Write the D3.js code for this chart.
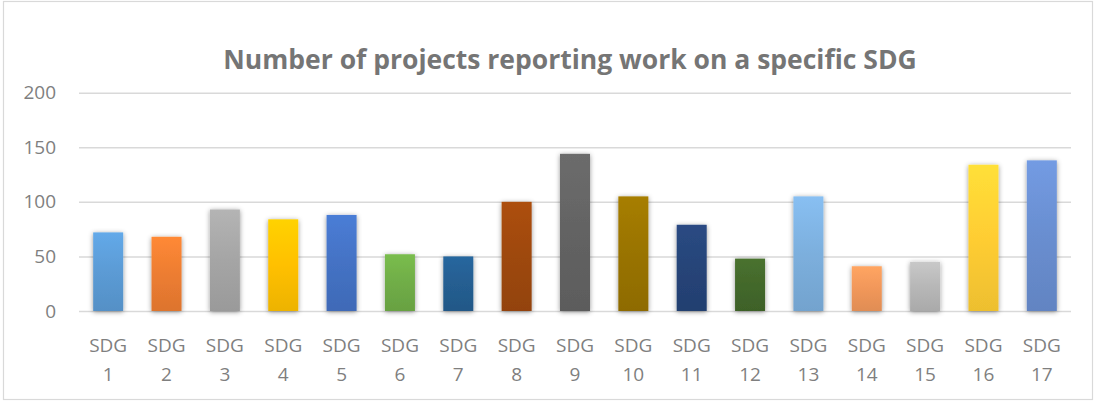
<!DOCTYPE html>
<html>
<head>
<meta charset="utf-8">
<script src="https://cdn.jsdelivr.net/npm/d3@7"></script>
<style>
  html, body { margin: 0; padding: 0; background: #fff; }
  svg { display: block; }
</style>
</head>
<body>
<svg id="chart"></svg>
<script>
/* ---------- data ---------- */

var categories = ["SDG 1", "SDG 2", "SDG 3", "SDG 4", "SDG 5", "SDG 6", "SDG 7", "SDG 8", "SDG 9",
                  "SDG 10", "SDG 11", "SDG 12", "SDG 13", "SDG 14", "SDG 15", "SDG 16", "SDG 17"];
var projects = [72, 68, 93, 84, 88, 52, 50, 100, 144, 105, 79, 48, 105, 41, 45, 134, 138];
var barColors = ["#5B9BD5", "#ED7D31", "#A5A5A5", "#FFC000", "#4472C4", "#70AD47", "#255E91", "#9E480E", "#636363",
                 "#997300", "#264478", "#43682B", "#7CAFDD", "#F1975A", "#B7B7B7", "#FFCD33", "#698ED0"];
var yTicks = [0, 50, 100, 150, 200];
var title = "Number of projects reporting work on a specific SDG";

/* ---------- size ---------- */

var WIDTH = 1100, HEIGHT = 403;
var plotLeft = 79, plotRight = 1071, plotTop = 92.7, plotBottom = 311;
var textColor = "#7f7f7f", gridColor = "#d9d9d9";

var svg = d3.select("#chart")
    .attr("width", WIDTH)
    .attr("height", HEIGHT);

var defs = svg.append("defs");

// soft shadow round the bars
var shadow = defs.append("filter")
    .attr("id", "shadow")
    .attr("x", "-50%").attr("y", "-20%")
    .attr("width", "200%").attr("height", "140%");
shadow.append("feGaussianBlur").attr("in", "SourceAlpha").attr("stdDeviation", 2.6).attr("result", "blur");
shadow.append("feOffset").attr("in", "blur").attr("dx", 0).attr("dy", 1).attr("result", "off");
shadow.append("feFlood").attr("flood-color", "#000").attr("flood-opacity", 0.42);
shadow.append("feComposite").attr("in2", "off").attr("operator", "in").attr("result", "sh");
var merge = shadow.append("feMerge");
merge.append("feMergeNode").attr("in", "sh");
merge.append("feMergeNode").attr("in", "SourceGraphic");

barColors.forEach(function(c, i) {
    var g = defs.append("linearGradient")
        .attr("id", "grad" + i)
        .attr("x1", 0).attr("y1", 0).attr("x2", 0).attr("y2", 1);
    g.append("stop").attr("offset", "0%").attr("stop-color", d3.color(c).brighter(0.25));
    g.append("stop").attr("offset", "50%").attr("stop-color", c);
    g.append("stop").attr("offset", "100%").attr("stop-color", d3.color(c).darker(0.2));
});

/* ---------- frame ---------- */

svg.append("rect")
    .attr("x", 3.5).attr("y", 1.5)
    .attr("width", 1089).attr("height", 398)
    .attr("fill", "#fff")
    .attr("stroke", "#d9d9d9")
    .attr("stroke-width", 1.2);

/* ---------- scales ---------- */

var x = d3.scaleBand()
    .domain(categories)
    .range([plotLeft, plotRight])
    .paddingInner(0.486)
    .paddingOuter(0.243);

var y = d3.scaleLinear()
    .domain([0, 200])
    .range([plotBottom, plotTop]);

/* ---------- grid and y axis ---------- */

var yAxis = svg.append("g")
    .attr("transform", "translate(" + plotLeft + ",0)")
    .call(d3.axisLeft(y).tickValues(yTicks).tickSize(-(plotRight - plotLeft)).tickPadding(23));

yAxis.select(".domain").remove();
yAxis.selectAll(".tick line")
    .attr("stroke", gridColor)
    .attr("stroke-width", 1.5);
yAxis.selectAll(".tick text")
    .attr("fill", textColor)
    .style("font-family", "'Open Sans', sans-serif")
    .style("font-size", "19px");

/* ---------- bars ---------- */

svg.append("g")
    .selectAll("rect")
    .data(projects)
    .enter().append("rect")
    .attr("x", function(d, i) { return x(categories[i]); })
    .attr("y", function(d) { return y(d); })
    .attr("width", x.bandwidth())
    .attr("height", function(d) { return y(0) - y(d); })
    .attr("fill", function(d, i) { return "url(#grad" + i + ")"; })
    .attr("filter", "url(#shadow)");

/* ---------- x labels ---------- */

var xLabels = svg.append("g")
    .selectAll("text")
    .data(categories)
    .enter().append("text")
    .attr("text-anchor", "middle")
    .attr("fill", textColor)
    .style("font-family", "'Open Sans', sans-serif")
    .style("font-size", "19px")
    .attr("transform", function(d) { return "translate(" + (x(d) + x.bandwidth() / 2) + ",0)"; });

xLabels.selectAll("tspan")
    .data(function(d) { return d.split(" "); })
    .enter().append("tspan")
    .attr("x", 0)
    .attr("y", function(d, i) { return 352 + i * 29; })
    .text(function(d) { return d; });

/* ---------- title ---------- */

svg.append("text")
    .attr("x", 570)
    .attr("y", 69)
    .attr("text-anchor", "middle")
    .attr("fill", "#757575")
    .style("font-family", "'Open Sans', sans-serif")
    .style("font-weight", "bold")
    .style("font-size", "26.5px")
    .text(title);
</script>
</body>
</html>
